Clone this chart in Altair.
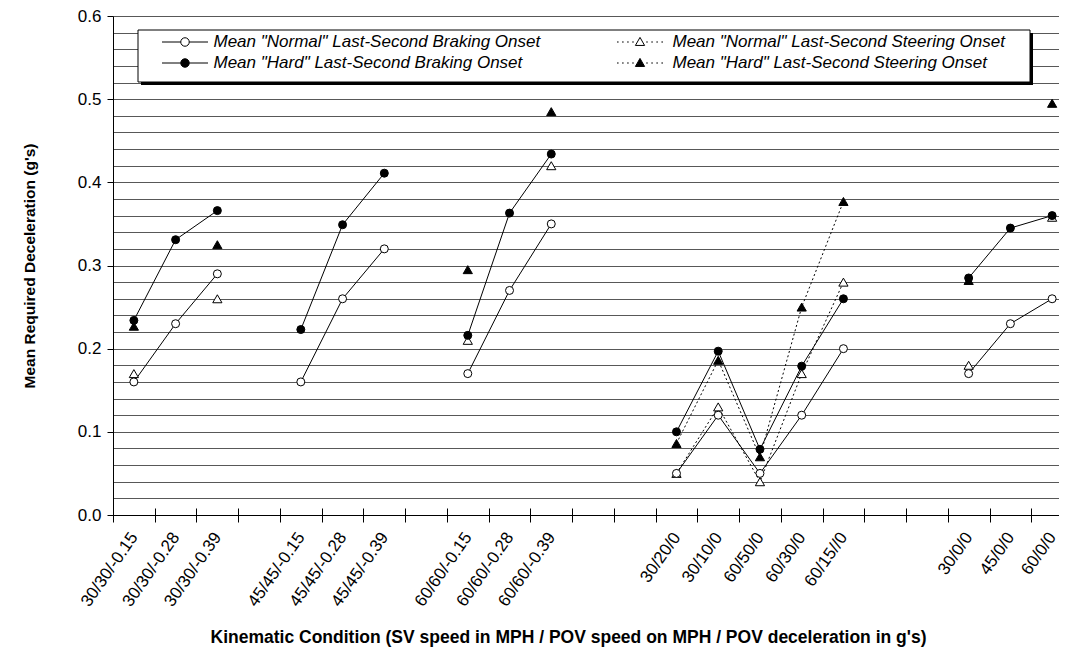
import altair as alt
import pandas as pd

# ---------------- data ----------------
categories = ["30/30/-0.15", "30/30/-0.28", "30/30/-0.39",
              "45/45/-0.15", "45/45/-0.28", "45/45/-0.39",
              "60/60/-0.15", "60/60/-0.28", "60/60/-0.39",
              "30/20/0", "30/10/0", "60/50/0", "60/30/0", "60/15//0",
              "30/0/0", "45/0/0", "60/0/0"]
groups = [1, 1, 1, 2, 2, 2, 3, 3, 3, 4, 4, 4, 4, 4, 5, 5, 5]

normal_braking = [0.16, 0.23, 0.29, 0.16, 0.26, 0.32, 0.17, 0.27, 0.35,
                  0.05, 0.12, 0.05, 0.12, 0.20, 0.17, 0.23, 0.26]
hard_braking = [0.234, 0.331, 0.366, 0.223, 0.349, 0.411, 0.216, 0.363, 0.434,
                0.10, 0.197, 0.079, 0.179, 0.26, 0.285, 0.345, 0.36]
normal_steering = [0.17, None, 0.26, None, None, None, 0.21, None, 0.42,
                   0.05, 0.13, 0.04, 0.17, 0.28, 0.18, None, 0.358]
hard_steering = [0.227, None, 0.325, None, None, None, 0.295, None, 0.485,
                 0.086, 0.186, 0.07, 0.25, 0.377, 0.282, None, 0.495]

# axis slots (category positions incl. empty gaps)
axis_slots = ["30/30/-0.15", "30/30/-0.28", "30/30/-0.39", "gap1",
              "45/45/-0.15", "45/45/-0.28", "45/45/-0.39", "gap2",
              "60/60/-0.15", "60/60/-0.28", "60/60/-0.39", "gap3", "gap4",
              "30/20/0", "30/10/0", "60/50/0", "60/30/0", "60/15//0", "gap5", "gap6",
              "30/0/0", "45/0/0", "60/0/0"]

series_names = ['Mean "Normal" Last-Second Braking Onset',
                'Mean "Hard" Last-Second Braking Onset',
                'Mean "Normal" Last-Second Steering Onset',
                'Mean "Hard" Last-Second Steering Onset']
series_values = [normal_braking, hard_braking, normal_steering, hard_steering]

y_grid_values = [round(i * 0.02, 2) for i in range(31)]

x_title = "Kinematic Condition (SV speed in MPH / POV speed on MPH  / POV deceleration in g's)"
y_title = "Mean Required Deceleration (g's)"

FONT = "Liberation Sans, Arial, sans-serif"

# ---------------- long table ----------------
rows = []
for name, vals in zip(series_names, series_values):
    seg = 0
    prev_group = None
    for cat, grp, v in zip(categories, groups, vals):
        if grp != prev_group:
            seg += 1
            prev_group = grp
        if v is None:
            seg += 1
            continue
        rows.append({"cat": cat, "idx": axis_slots.index(cat), "value": v,
                     "series": name, "seg": f"{name}-{seg}"})
df = pd.DataFrame(rows)

# ---------------- encodings ----------------
major_test = "abs(datum.value*10 - round(datum.value*10)) < 0.001"

x_enc = alt.X(
    "cat:N",
    scale=alt.Scale(type="band", domain=axis_slots, paddingInner=0, paddingOuter=0),
    axis=alt.Axis(
        title=x_title, labelAngle=-55, labelAlign="right", labelBaseline="middle",
        labelFont=FONT, labelFontSize=17, labelColor="black", labelPadding=12,
        labelExpr="indexof(datum.label, 'gap') == 0 ? '' : datum.label",
        labelOverlap=False, labelLimit=400,
        tickBand="extent", tickSize=14, tickColor="black", tickWidth=1,
        offset=-7, domain=False, grid=False,
        titleFont=FONT, titleFontSize=17.5, titleFontWeight="bold", titleColor="black",
        titleX=455, titleY=129, titleAlign="center", titleBaseline="middle",
    ),
)
y_enc = alt.Y(
    "value:Q",
    scale=alt.Scale(domain=[0, 0.6], nice=False, zero=True),
    axis=alt.Axis(
        title=y_title, values=y_grid_values,
        labelExpr=f"{major_test} ? format(datum.value, '.1f') : ''",
        labelFont=FONT, labelFontSize=17, labelColor="black", labelPadding=6,
        labelOverlap=False,
        tickSize=6, tickColor={"condition": {"test": major_test, "value": "black"}, "value": "transparent"},
        domainColor="black", domainWidth=1,
        grid=True, gridWidth=1,
        gridColor={"condition": {"test": "datum.value == 0", "value": "black"}, "value": "#585858"},
        titleFont=FONT, titleFontSize=15.5, titleFontWeight="bold", titleColor="black",
        titleX=-84, titleY=249.5, titleAlign="center", titleBaseline="middle", titleAngle=-90,
    ),
)

base = alt.Chart(df)

# legend frame (decoration) with shadow
frame_src = alt.Chart(pd.DataFrame({"k": [0]}))
shadow = frame_src.mark_rect(fill="black").encode(
    x=alt.value(28), x2=alt.value(920), y=alt.value(17), y2=alt.value(69))
frame = frame_src.mark_rect(fill="white", stroke="black", strokeWidth=1).encode(
    x=alt.value(25), x2=alt.value(917), y=alt.value(14), y2=alt.value(66))

brake_lines = base.transform_filter(
    alt.FieldOneOfPredicate(field="series", oneOf=series_names[:2])
).mark_line(color="black", strokeWidth=1).encode(
    x=x_enc, y=y_enc, detail="seg:N", order="idx:Q")

steer_lines = base.transform_filter(
    alt.FieldOneOfPredicate(field="series", oneOf=series_names[2:])
).mark_line(color="black", strokeWidth=1, strokeDash=[2, 2.5]).encode(
    x=x_enc, y=y_enc, detail="seg:N", order="idx:Q")


def pts(name, shape, fill, size):
    return base.transform_filter(alt.datum.series == name).mark_point(
        shape=shape, filled=True, fill=fill, stroke="black", strokeWidth=1,
        size=size, opacity=1
    ).encode(x=x_enc, y=y_enc)


tri_n = pts(series_names[2], "triangle-up", "white", 85)
tri_h = pts(series_names[3], "triangle-up", "black", 85)
cir_n = pts(series_names[0], "circle", "white", 64)
cir_h = pts(series_names[1], "circle", "black", 64)

# ---------------- legend (symbols: line + marker) ----------------
r = 0.185
circle_path = (f"M-1,0L{-r},0M{r},0L1,0"
               f"M{-r},0A{r},{r} 0 1,0 {r},0A{r},{r} 0 1,0 {-r},0Z")
t = 0.2
dots = "".join(f"M{a},0L{a + 0.07:.2f},0" for a in [-1.0, -0.78, -0.56, -0.34])
dots += "".join(f"M{a},0L{a + 0.07:.2f},0" for a in [0.27, 0.49, 0.71, 0.93])
tri_path = dots + f"M0,{-t}L{t},{t * 0.75}L{-t},{t * 0.75}Z"

brake_names = [series_names[0], series_names[1]]
steer_names = [series_names[2], series_names[3]]
leg_df = pd.DataFrame({"bser": brake_names, "sser": steer_names})


def legend_props(lx, off):
    return alt.Legend(
        title=None, orient="none", legendX=lx, legendY=15.5, direction="vertical",
        padding=0, labelFont=FONT, labelFontSize=17, labelFontStyle="italic",
        labelColor="black", labelLimit=600, labelOffset=off,
        symbolSize=2116, symbolStrokeWidth=1, symbolStrokeColor="black",
        symbolOpacity=1, clipHeight=21, rowPadding=0, strokeColor="transparent",
    )


def legend_layer(field, names, path, lx, off):
    lg = legend_props(lx, off)
    return alt.Chart(leg_df).transform_filter("false").mark_point(
        filled=True, stroke="black", strokeWidth=1, opacity=1
    ).encode(
        shape=alt.Shape(f"{field}:N", scale=alt.Scale(domain=names, range=[path, path]), legend=lg),
        fill=alt.Fill(f"{field}:N", scale=alt.Scale(domain=names, range=["white", "black"]), legend=lg),
        stroke=alt.Stroke(f"{field}:N", scale=alt.Scale(domain=names, range=["black", "black"]), legend=lg),
    )


leg_b = legend_layer("bser", brake_names, circle_path, 48.5, 5)
leg_s = legend_layer("sser", steer_names, tri_path, 503.5, 9)

chart = alt.layer(
    brake_lines, shadow, frame, steer_lines, tri_n, tri_h, cir_n, cir_h, leg_b, leg_s
).resolve_scale(
    shape="independent", fill="independent", stroke="independent"
).properties(
    width=960, height=499,
    autosize=alt.AutoSizeParams(type="none"),
    padding={"left": 105, "top": 8, "right": -14, "bottom": 133},
).configure_view(stroke="transparent").configure(background="white")

chart.save("out.html", embed_options={"renderer": "svg", "actions": False})
